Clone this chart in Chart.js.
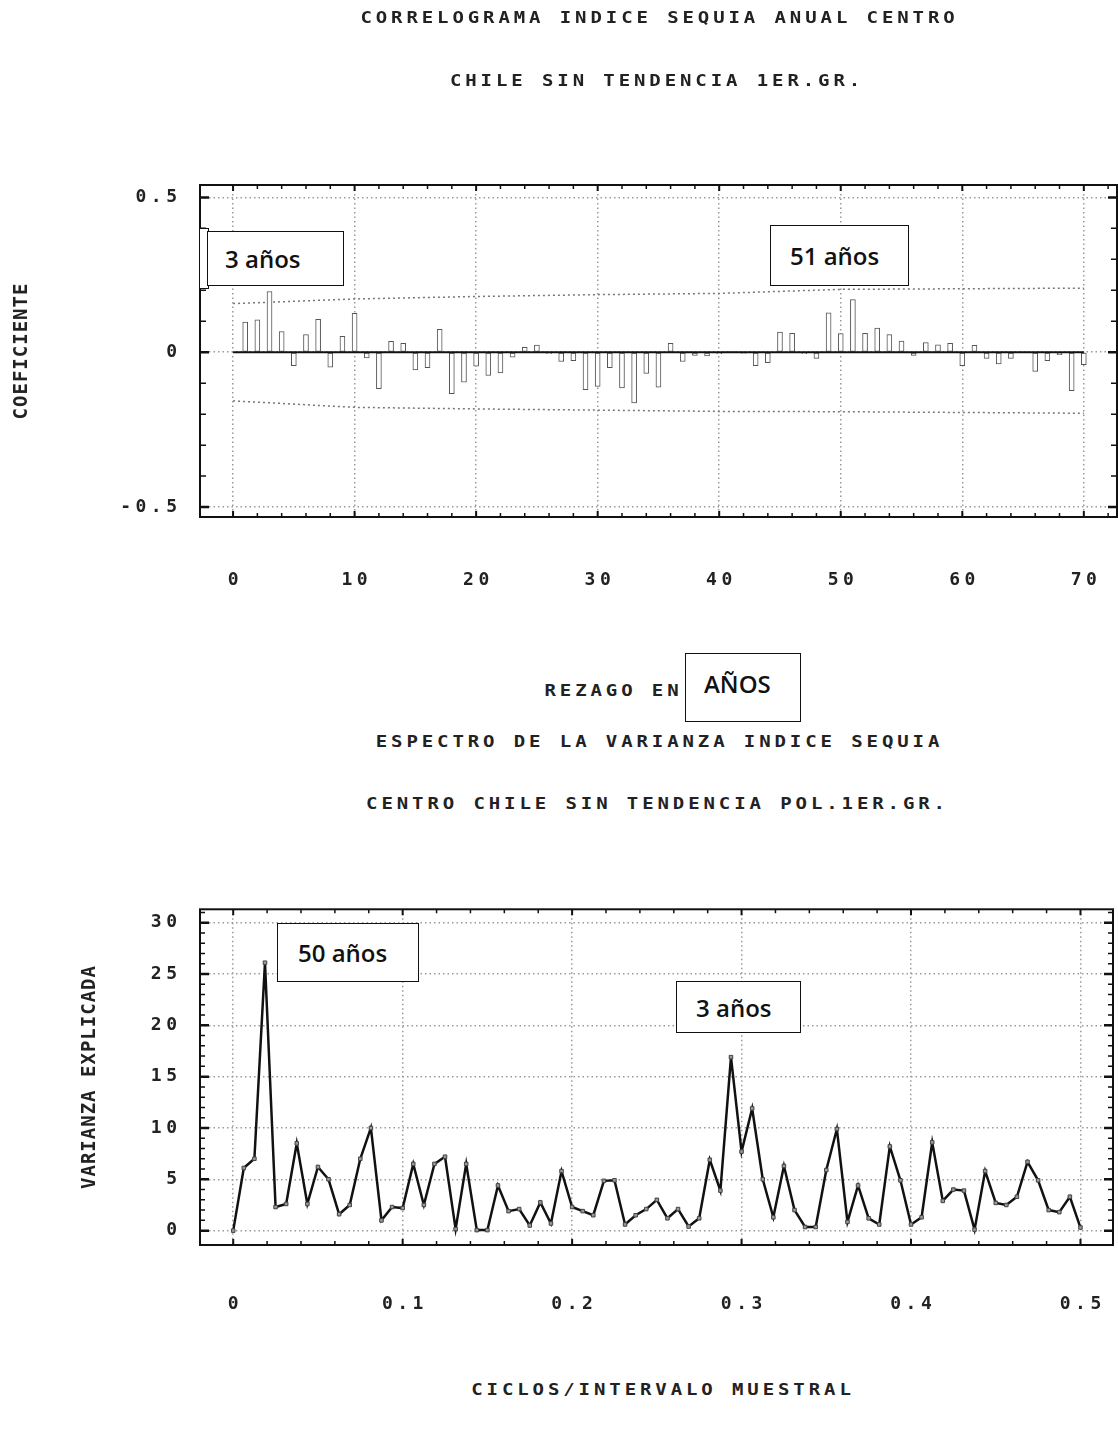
<!DOCTYPE html>
<html><head><meta charset="utf-8">
<script src="https://cdn.jsdelivr.net/npm/chart.js@4.4.1/dist/chart.umd.min.js"></script>
<style>
html,body{margin:0;padding:0;background:#fff;}
body{width:1118px;height:1430px;position:relative;overflow:hidden;}
canvas{position:absolute;left:0;}
.t{position:absolute;font:bold 19px 'DejaVu Sans Mono',monospace;letter-spacing:3.9px;line-height:20px;white-space:nowrap;color:#222;text-align:center;width:800px;transform:scaleY(0.85);}
.v{position:absolute;font:bold 19px 'DejaVu Sans Mono',monospace;letter-spacing:1px;line-height:20px;white-space:nowrap;color:#222;text-align:center;width:400px;height:20px;transform:rotate(-90deg);}
.box{position:absolute;background:#fff;border:1.5px solid #111;box-sizing:border-box;font:600 24px 'Open Sans',sans-serif;color:#111;display:flex;align-items:center;white-space:nowrap;}
</style></head><body>
<canvas id="c1" width="1118" height="620" style="top:0px"></canvas>
<canvas id="c2" width="1118" height="460" style="top:880px"></canvas>

<div class="t" style="left:259.5px;top:7.3px">CORRELOGRAMA INDICE SEQUIA ANUAL CENTRO</div>
<div class="t" style="left:257px;top:70.3px">CHILE SIN TENDENCIA 1ER.GR.</div>
<div class="v" style="left:-180px;top:341px">COEFICIENTE</div>
<div class="t" style="left:213.5px;top:680.3px">REZAGO EN</div>
<div class="t" style="left:259.5px;top:731.3px">ESPECTRO DE LA VARIANZA INDICE SEQUIA</div>
<div class="t" style="left:257.5px;top:793.3px">CENTRO CHILE SIN TENDENCIA POL.1ER.GR.</div>
<div class="v" style="left:-112px;top:1067px">VARIANZA EXPLICADA</div>
<div class="t" style="left:263px;top:1379.3px">CICLOS/INTERVALO MUESTRAL</div>

<div class="box" style="left:199px;top:228px;width:10px;height:61px"></div>
<div class="box" style="left:207px;top:231px;width:137px;height:55px;padding-left:17px">3 años</div>
<div class="box" style="left:770px;top:225px;width:139px;height:61px;padding-left:19px">51 años</div>
<div class="box" style="left:685px;top:653px;width:116px;height:69px;padding-left:18px;padding-bottom:8px">AÑOS</div>
<div class="box" style="left:277px;top:923px;width:142px;height:59px;padding-left:20px">50 años</div>
<div class="box" style="left:676px;top:981px;width:125px;height:52px;padding-left:19px">3 años</div>

<script>
// ---------- Correlograma ----------
const lags = [1,2,3,4,5,6,7,8,9,10,11,12,13,14,15,16,17,18,19,20,21,22,23,24,25,26,27,28,29,30,31,32,33,34,35,36,37,38,39,40,41,42,43,44,45,46,47,48,49,50,51,52,53,54,55,56,57,58,59,60,61,62,63,64,65,66,67,68,69,70];
const acf = [0.097,0.105,0.196,0.067,-0.043,0.057,0.106,-0.048,0.051,0.126,
             -0.018,-0.118,0.035,0.029,-0.057,-0.050,0.074,-0.134,-0.097,-0.045,
             -0.075,-0.067,-0.016,0.016,0.023,-0.005,-0.030,-0.027,-0.121,-0.110,
             -0.050,-0.115,-0.164,-0.068,-0.113,0.029,-0.030,-0.010,-0.012,-0.005,
             0.003,-0.004,-0.043,-0.034,0.065,0.061,-0.005,-0.020,0.127,0.060,
             0.170,0.061,0.078,0.057,0.036,-0.010,0.031,0.024,0.029,-0.043,
             0.022,-0.020,-0.038,-0.020,0.002,-0.062,-0.027,-0.008,-0.124,-0.040];
const bandLags  = [0,10,20,30,40,50,70];
const bandUpper = [0.157,0.172,0.180,0.186,0.190,0.203,0.207];
const bandLower = [-0.157,-0.178,-0.183,-0.187,-0.191,-0.192,-0.197];
const lagTicks  = [0,10,20,30,40,50,60,70];
const coefTicks = [-0.5,0,0.5];

// ---------- Espectro ----------
const freqs = [0,0.00625,0.0125,0.01875,0.025,0.03125,0.0375,0.04375,0.05,0.05625,
  0.0625,0.06875,0.075,0.08125,0.0875,0.09375,0.1,0.10625,0.1125,0.11875,
  0.125,0.13125,0.1375,0.14375,0.15,0.15625,0.1625,0.16875,0.175,0.18125,
  0.1875,0.19375,0.2,0.20625,0.2125,0.21875,0.225,0.23125,0.2375,0.24375,
  0.25,0.25625,0.2625,0.26875,0.275,0.28125,0.2875,0.29375,0.3,0.30625,
  0.3125,0.31875,0.325,0.33125,0.3375,0.34375,0.35,0.35625,0.3625,0.36875,
  0.375,0.38125,0.3875,0.39375,0.4,0.40625,0.4125,0.41875,0.425,0.43125,
  0.4375,0.44375,0.45,0.45625,0.4625,0.46875,0.475,0.48125,0.4875,0.49375,0.5];
const variance = [0,6.1,7.0,26.1,2.3,2.6,8.5,2.6,6.2,5.0,
  1.6,2.5,7.0,10.0,1.0,2.3,2.2,6.5,2.5,6.5,
  7.2,0.15,6.5,0.05,0.05,4.4,1.9,2.1,0.5,2.75,
  0.7,5.8,2.3,1.9,1.5,4.85,4.9,0.6,1.5,2.1,
  3.0,1.2,2.1,0.4,1.2,6.9,3.9,16.9,7.7,11.9,
  5.0,1.3,6.3,2.0,0.35,0.35,5.9,9.9,0.85,4.4,
  1.2,0.6,8.2,4.9,0.6,1.3,8.6,2.9,4.0,3.9,
  0.1,5.8,2.7,2.5,3.3,6.7,4.9,2.0,1.8,3.3,0.3];
const freqTicks = [0,0.1,0.2,0.3,0.4,0.5];
const varTicks  = [0,5,10,15,20,25,30];

const FAMILY = 'DejaVu Sans Mono';
const Y_FONT = {family:FAMILY, size:18, weight:'bold'};

const spacingPlugin = {
  id:'spacing',
  beforeDraw(chart){ chart.ctx.letterSpacing = '4.5px'; }
};

const framePlugin = {
  id:'frame',
  afterDraw(chart, args, o){
    const {ctx, chartArea:a, scales:{x,y}} = chart;
    ctx.save();
    ctx.letterSpacing = '0px';
    ctx.strokeStyle = '#111';
    const nx = Math.round((o.xTo - o.xFrom)/o.xStep);
    for (let i=0;i<=nx;i++){
      const v = o.xFrom + i*o.xStep;
      const px = x.getPixelForValue(v);
      const major = (i % o.xMajorEvery) === 0;
      const len = major ? o.xMajorLen : o.xLen;
      ctx.lineWidth = major ? 2 : 1.5;
      ctx.beginPath();
      ctx.moveTo(px, a.top); ctx.lineTo(px, a.top + len);
      ctx.moveTo(px, a.bottom); ctx.lineTo(px, a.bottom - len);
      ctx.stroke();
    }
    const ny = Math.round((o.yTo - o.yFrom)/o.yStep);
    for (let i=0;i<=ny;i++){
      const v = o.yFrom + i*o.yStep;
      const py = y.getPixelForValue(v);
      const major = (i % o.yMajorEvery) === 0;
      const len = major ? o.yMajorLen : o.yLen;
      ctx.lineWidth = major ? 2.5 : 1.5;
      ctx.beginPath();
      ctx.moveTo(a.left, py); ctx.lineTo(a.left + len, py);
      ctx.moveTo(a.right, py); ctx.lineTo(a.right - len, py);
      ctx.stroke();
    }
    ctx.lineWidth = 2;
    ctx.strokeRect(a.left, a.top, a.right - a.left, a.bottom - a.top);
    ctx.restore();
  }
};

function gridOpts(){ return {color:'#9a9a9a', lineWidth:1.5, drawTicks:false, offset:false}; }

// Chart 1: correlogram
new Chart(document.getElementById('c1'), {
  type:'bar',
  data:{ datasets:[
    { type:'line', data:[{x:0,y:0},{x:lags[lags.length-1],y:0}], borderColor:'#111', borderWidth:2, pointRadius:0, order:0 },
    { type:'bar', data:lags.map((l,i)=>({x:l,y:acf[i]})), backgroundColor:'#fff', borderColor:'#555', borderWidth:1, borderSkipped:false, barThickness:5, order:1 },
    { type:'line', data:bandLags.map((l,i)=>({x:l,y:bandUpper[i]})), borderColor:'#777', borderWidth:1.5, borderDash:[2,3], pointRadius:0, order:2 },
    { type:'line', data:bandLags.map((l,i)=>({x:l,y:bandLower[i]})), borderColor:'#777', borderWidth:1.5, borderDash:[2,3], pointRadius:0, order:2 }
  ]},
  options:{
    responsive:false, animation:false, events:[],
    layout:{padding:{left:0, top:185, right:1, bottom:23}},
    plugins:{ legend:{display:false}, tooltip:{enabled:false},
      frame:{xFrom:0, xTo:72, xStep:2, xMajorEvery:5, xLen:4, xMajorLen:6,
             yFrom:-0.5, yTo:0.5, yStep:0.1, yMajorEvery:5, yLen:6, yMajorLen:9} },
    scales:{
      x:{ type:'linear', min:-2.72, max:72.73, offset:false,
          afterBuildTicks:s=>{ s.ticks = lagTicks.map(v=>({value:v})); },
          afterFit:s=>{ s.height = 80; },
          grid:gridOpts(), border:{display:false, dash:[1.5,3]},
          ticks:{autoSkip:false, maxRotation:0, padding:0, labelOffset:2.25, color:'#222',
                 font:{family:FAMILY, size:18, weight:'bold', lineHeight:'126px'}, callback:v=>String(v)} },
      y:{ type:'linear', min:-0.532, max:0.54,
          afterBuildTicks:s=>{ s.ticks = coefTicks.map(v=>({value:v})); },
          afterFit:s=>{ s.width = 200; },
          grid:gridOpts(), border:{display:false, dash:[1.5,3]},
          ticks:{padding:18.5, color:'#222', font:Y_FONT, callback:v=>String(v)} }
    }
  },
  plugins:[spacingPlugin, framePlugin]
});

// Chart 2: spectrum
new Chart(document.getElementById('c2'), {
  type:'line',
  data:{ datasets:[
    { data:freqs.map((f,i)=>({x:f,y:variance[i]})), borderColor:'#111', borderWidth:2.5, tension:0,
      pointStyle:'rect', pointRadius:2.5, pointBackgroundColor:'#999', pointBorderColor:'#444', pointBorderWidth:1 }
  ]},
  options:{
    responsive:false, animation:false, events:[],
    layout:{padding:{left:0, top:29, right:1, bottom:15}},
    plugins:{ legend:{display:false}, tooltip:{enabled:false},
      frame:{xFrom:0, xTo:0.5, xStep:0.02, xMajorEvery:5, xLen:4, xMajorLen:6,
             yFrom:0, yTo:31, yStep:1, yMajorEvery:5, yLen:5, yMajorLen:9} },
    scales:{
      x:{ type:'linear', min:-0.0196, max:0.5192, offset:false,
          afterBuildTicks:s=>{ s.ticks = freqTicks.map(v=>({value:v})); },
          afterFit:s=>{ s.height = 80; },
          grid:gridOpts(), border:{display:false, dash:[1.5,3]},
          ticks:{autoSkip:false, maxRotation:0, padding:0, labelOffset:2.25, color:'#222',
                 font:{family:FAMILY, size:18, weight:'bold', lineHeight:'118px'}, callback:v=>String(v)} },
      y:{ type:'linear', min:-1.4, max:31.3,
          afterBuildTicks:s=>{ s.ticks = varTicks.map(v=>({value:v})); },
          afterFit:s=>{ s.width = 200; },
          grid:gridOpts(), border:{display:false, dash:[1.5,3]},
          ticks:{padding:18.5, color:'#222', font:Y_FONT, callback:v=>String(v)} }
    }
  },
  plugins:[spacingPlugin, framePlugin]
});
</script>
</body></html>
